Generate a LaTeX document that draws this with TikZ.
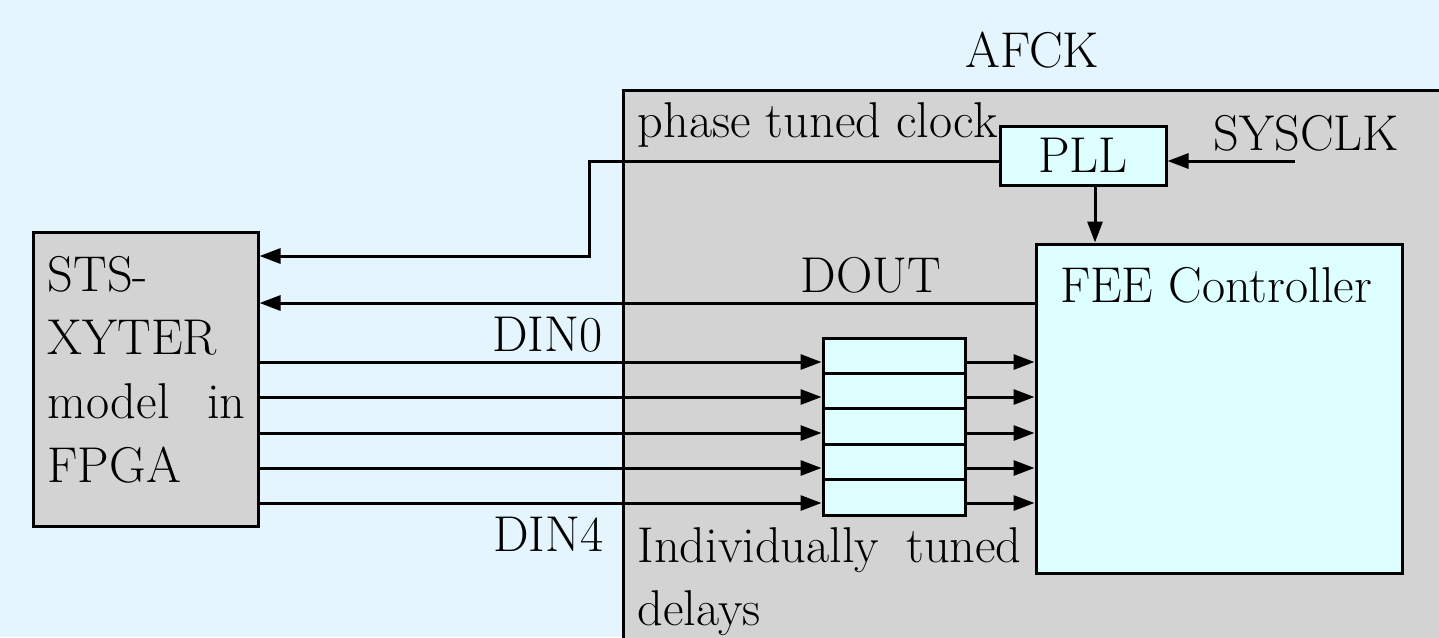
\documentclass[tikz,border=0pt]{standalone}
\usepackage{fontspec}
\newfontfamily\lmsv{lmroman17-regular.otf}
\usetikzlibrary{arrows.meta,calc}
\definecolor{bgblue}{RGB}{229,245,253}
\definecolor{boxgray}{RGB}{211,211,211}
\definecolor{boxcyan}{RGB}{222,255,255}
\begin{document}
\begin{tikzpicture}[x=0.3pt,y=-0.3pt,
  lbl/.style={inner sep=0pt,font=\lmsv\fontsize{15.1}{19.1}\selectfont},
  graybox/.style={draw=black,fill=boxgray,line width=0.9pt,inner sep=0pt},
  cyanbox/.style={draw=black,fill=boxcyan,line width=0.9pt,inner sep=0pt,font=\lmsv\fontsize{15.1}{19.1}\selectfont},
  arr/.style={-{Triangle[length=6.3pt,width=4.5pt]},line width=0.9pt},
  wire/.style={line width=0.9pt}]
\fill[bgblue] (0,0) rectangle (1439,637);
\useasboundingbox (0,0) rectangle (1439,637);
% containers and boxes
\node[graybox,minimum width=256.8pt,minimum height=176.1pt] (afck) at (1051,383.5) {};
\node[graybox,minimum width=67.5pt,minimum height=88.2pt] (sts) at (145.5,379) {};
\node[cyanbox,minimum width=49.8pt,minimum height=17.7pt] (pll) at (1083,155.5) {PLL};
\node[cyanbox,minimum width=109.8pt,minimum height=98.7pt] (fee) at (1219,408.5) {};
\foreach \i/\y in {0/355.7,1/391.1,2/426.5,3/461.9,4/497.3}
  \node[cyanbox,minimum width=42.6pt,minimum height=10.62pt] (d\i) at (894,\y) {};
% helper coordinates
\coordinate (sysin) at (1295,161);
\coordinate (clkbend) at (589,161);
\coordinate (clkbend2) at (589,256);
\coordinate (pllx) at (1095,0);
\coordinate (douty) at (0,303);
% connectors
\draw[arr] (sysin) -- (pll.east |- sysin);
\draw[arr] (pll.south -| pllx) -- (fee.north -| pllx);
\draw[arr] (pll.west |- sysin) -- (clkbend) -- (clkbend2) -- (sts.east |- clkbend2);
\draw[arr] (fee.west |- douty) -- (sts.east |- douty);
\foreach \i/\y in {0/362,1/397,2/433,3/468,4/503} {
  \coordinate (dy\i) at (0,\y);
  \draw[arr] (sts.east |- dy\i) -- (d\i.west |- dy\i);
  \draw[arr] (d\i.east |- dy\i) -- (fee.west |- dy\i);
}
% labels
\node[lbl,anchor=base] (afcklabel) at (1032,67) {AFCK};
\node[lbl,anchor=base west] (clklabel) at (637,137) {phase tuned clock};
\node[lbl,anchor=base west] (sysclklabel) at (1213,150) {SYSCLK};
\node[lbl,anchor=base] (doutlabel) at (871,292) {DOUT};
\node[lbl,anchor=base east] (din0label) at (603,351) {DIN0};
\node[lbl,anchor=base east] (din4label) at (604,551) {DIN4};
\node[lbl,anchor=base] (feelabel) at (1216,302) {FEE Controller};
\node[lbl,anchor=base west,text width=59.4pt,align=left] (stslabel) at (47,291) {STS-\\XYTER\\model\hfill in\\FPGA};
\node[lbl,anchor=base west,text width=115.2pt,align=left] (dellabel) at (637,562) {Individually\hfill tuned\\delays};
\end{tikzpicture}
\end{document}
